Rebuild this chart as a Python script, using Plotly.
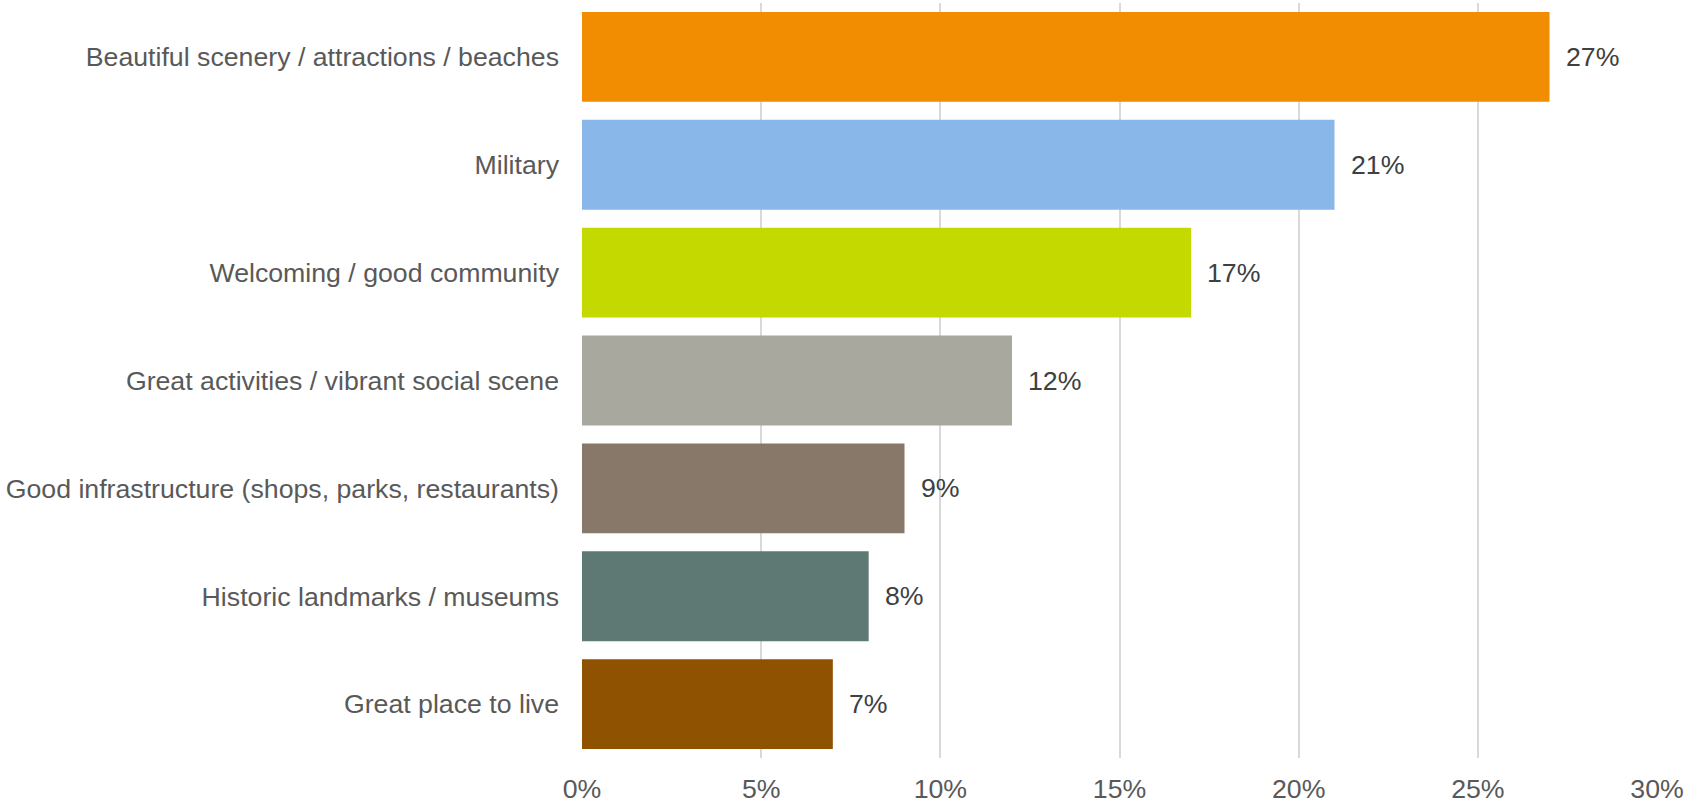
import plotly.graph_objects as go

categories = [
    "Beautiful scenery / attractions / beaches",
    "Military",
    "Welcoming / good community",
    "Great activities / vibrant social scene",
    "Good infrastructure (shops, parks, restaurants)",
    "Historic landmarks / museums",
    "Great place to live",
]
shares = [27, 21, 17, 12, 9, 8, 7]
bar_colors = ["#F28C00", "#8AB7EA", "#C4D900", "#A8A89F", "#877869", "#5E7873", "#8F5200"]
tick_vals = [0, 5, 10, 15, 20, 25, 30]
tick_text = ["0%", "5%", "10%", "15%", "20%", "25%", "30%"]

FONT = "Liberation Sans, Arial, sans-serif"

fig = go.Figure(
    go.Bar(
        x=shares,
        y=categories,
        orientation="h",
        marker=dict(color=bar_colors, line=dict(width=0)),
        hoverinfo="skip",
    )
)

# value labels to the right of each bar
for cat, val in zip(categories, shares):
    fig.add_annotation(
        x=val, y=cat, text=f"{val}%", showarrow=False,
        xanchor="left", yanchor="middle", xshift=14,
        font=dict(family=FONT, size=26.7, color="#404040"),
    )

fig.update_layout(
    width=1684, height=804,
    margin=dict(l=582, r=27, t=3, b=46),
    paper_bgcolor="white", plot_bgcolor="white",
    bargap=0.167,
    showlegend=False,
    font=dict(family=FONT, size=26.7, color="#595959"),
)
fig.update_xaxes(
    range=[0, 30], tickvals=tick_vals, ticktext=tick_text,
    showgrid=True, gridcolor="#D9D9D9", gridwidth=1.5,
    zeroline=False, showline=False,
    ticks="", ticklabelstandoff=12, automargin=False,
    tickfont=dict(family=FONT, size=26.7, color="#595959"),
)
fig.update_yaxes(
    categoryorder="array", categoryarray=categories[::-1],
    autorange=True,
    showgrid=False, zeroline=False, showline=False,
    ticks="", ticklabelstandoff=22, automargin=False,
    tickfont=dict(family=FONT, size=26.7, color="#595959"),
)

fig.write_html("out.html")
